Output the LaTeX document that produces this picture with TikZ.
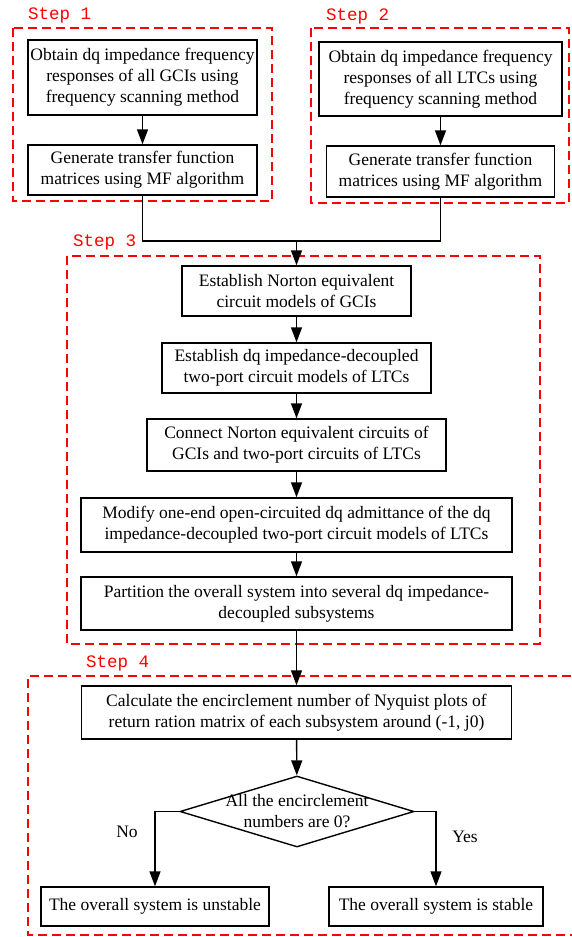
\documentclass[tikz,border=0pt]{standalone}
\usepackage{fontspec}
\setmainfont{Liberation Serif}
\newfontfamily\stepfont{Liberation Mono}
\usetikzlibrary{shapes.geometric,arrows.meta}
\begin{document}
\begin{tikzpicture}[x=1pt,y=-1pt,
  box/.style={draw, line width=1.4pt, inner sep=0pt, align=center,
    font=\fontsize{17.5}{21}\selectfont},
  plain/.style={inner sep=0pt, align=center, font=\fontsize{17.5}{21}\selectfont},
  arr/.style={line width=1.4pt, -{Triangle[length=15pt,width=11pt]}},
  conn/.style={line width=1.4pt},
  grp/.style={draw=red, line width=1.2pt, dash pattern=on 9pt off 5pt},
  steplbl/.style={text=red, font=\stepfont\fontsize{17.5}{20}\selectfont, anchor=west, inner sep=0pt}]
\useasboundingbox (0,0) rectangle (572,937);

% group frames
\draw[grp] (13,28) rectangle (272,201);
\draw[grp] (311,28) rectangle (569,203);
\draw[grp] (67,256) rectangle (540,644);
\draw[grp] (585,676) -- (28,676) -- (28,935) -- (585,935);
\node[steplbl] (s1) at (28,15) {Step 1};
\node[steplbl] (s2) at (326,16) {Step 2};
\node[steplbl] (s3) at (73,242) {Step 3};
\node[steplbl] (s4) at (86,663) {Step 4};

% Step 1
\node[box, minimum width=229pt, minimum height=75pt] (A1) at (142.5,77.5)
  {Obtain dq impedance frequency\\responses of all GCIs using\\frequency scanning method};
\node[box, minimum width=229pt, minimum height=50pt] (A2) at (142.5,170)
  {Generate transfer function\\matrices using MF algorithm};
% Step 2
\node[box, minimum width=243pt, minimum height=74pt] (B1) at (440.5,79)
  {Obtain dq impedance frequency\\responses of all LTCs using\\frequency scanning method};
\node[box, minimum width=228pt, minimum height=51pt] (B2) at (440.5,171.5)
  {Generate transfer function\\matrices using MF algorithm};
% Step 3
\node[box, minimum width=229pt, minimum height=50pt] (C1) at (296.5,291)
  {Establish Norton equivalent\\circuit models of GCIs};
\node[box, minimum width=269pt, minimum height=50pt] (C2) at (296.5,368)
  {Establish dq impedance-decoupled\\two-port circuit models of LTCs};
\node[box, minimum width=299pt, minimum height=52pt] (C3) at (296.5,445)
  {Connect Norton equivalent circuits of\\GCIs and two-port circuits of LTCs};
\node[box, minimum width=431pt, minimum height=54pt] (C4) at (296.5,525)
  {Modify one-end open-circuited dq admittance of the dq\\impedance-decoupled two-port circuit models of LTCs};
\node[box, minimum width=431pt, minimum height=53pt] (C5) at (296.5,603.5)
  {Partition the overall system into several dq impedance-\\decoupled subsystems};
% Step 4
\node[box, minimum width=430pt, minimum height=53pt] (D1) at (296.5,712.5)
  {Calculate the encirclement number of Nyquist plots of\\return ration matrix of each subsystem around (-1, j0)};
\node[draw, diamond, line width=1.4pt, inner sep=0pt, minimum width=234pt, minimum height=71pt] (dia) at (297,811.5) {};
\node[plain] (diat) at (297,811.5) {All the encirclement\\numbers are 0?};
\node[box, minimum width=228pt, minimum height=39pt] (E1) at (155,906.5)
  {The overall system is unstable};
\node[box, minimum width=214pt, minimum height=39pt] (E2) at (436,906.5)
  {The overall system is stable};
\node[plain] (no) at (127,832) {No};
\node[plain] (yes) at (465,837) {Yes};

% connectors
\coordinate (m) at (296.5,241);
\draw[arr] (A1) -- (A2);
\draw[arr] (B1.south -| B2.north) -- (B2.north);
\draw[conn] (A2.south) |- (m);
\draw[conn] (B2.south) |- (m);
\draw[arr] (m) -- (C1.north);
\draw[arr] (C1) -- (C2);
\draw[arr] (C2) -- (C3);
\draw[arr] (C3) -- (C4);
\draw[arr] (C4) -- (C5);
\draw[arr] (C5) -- (D1);
\draw[arr] (D1) -- (dia);
\draw[arr] (dia.west) -| (E1.north);
\draw[arr] (dia.east) -| (E2.north);
\end{tikzpicture}
\end{document}
